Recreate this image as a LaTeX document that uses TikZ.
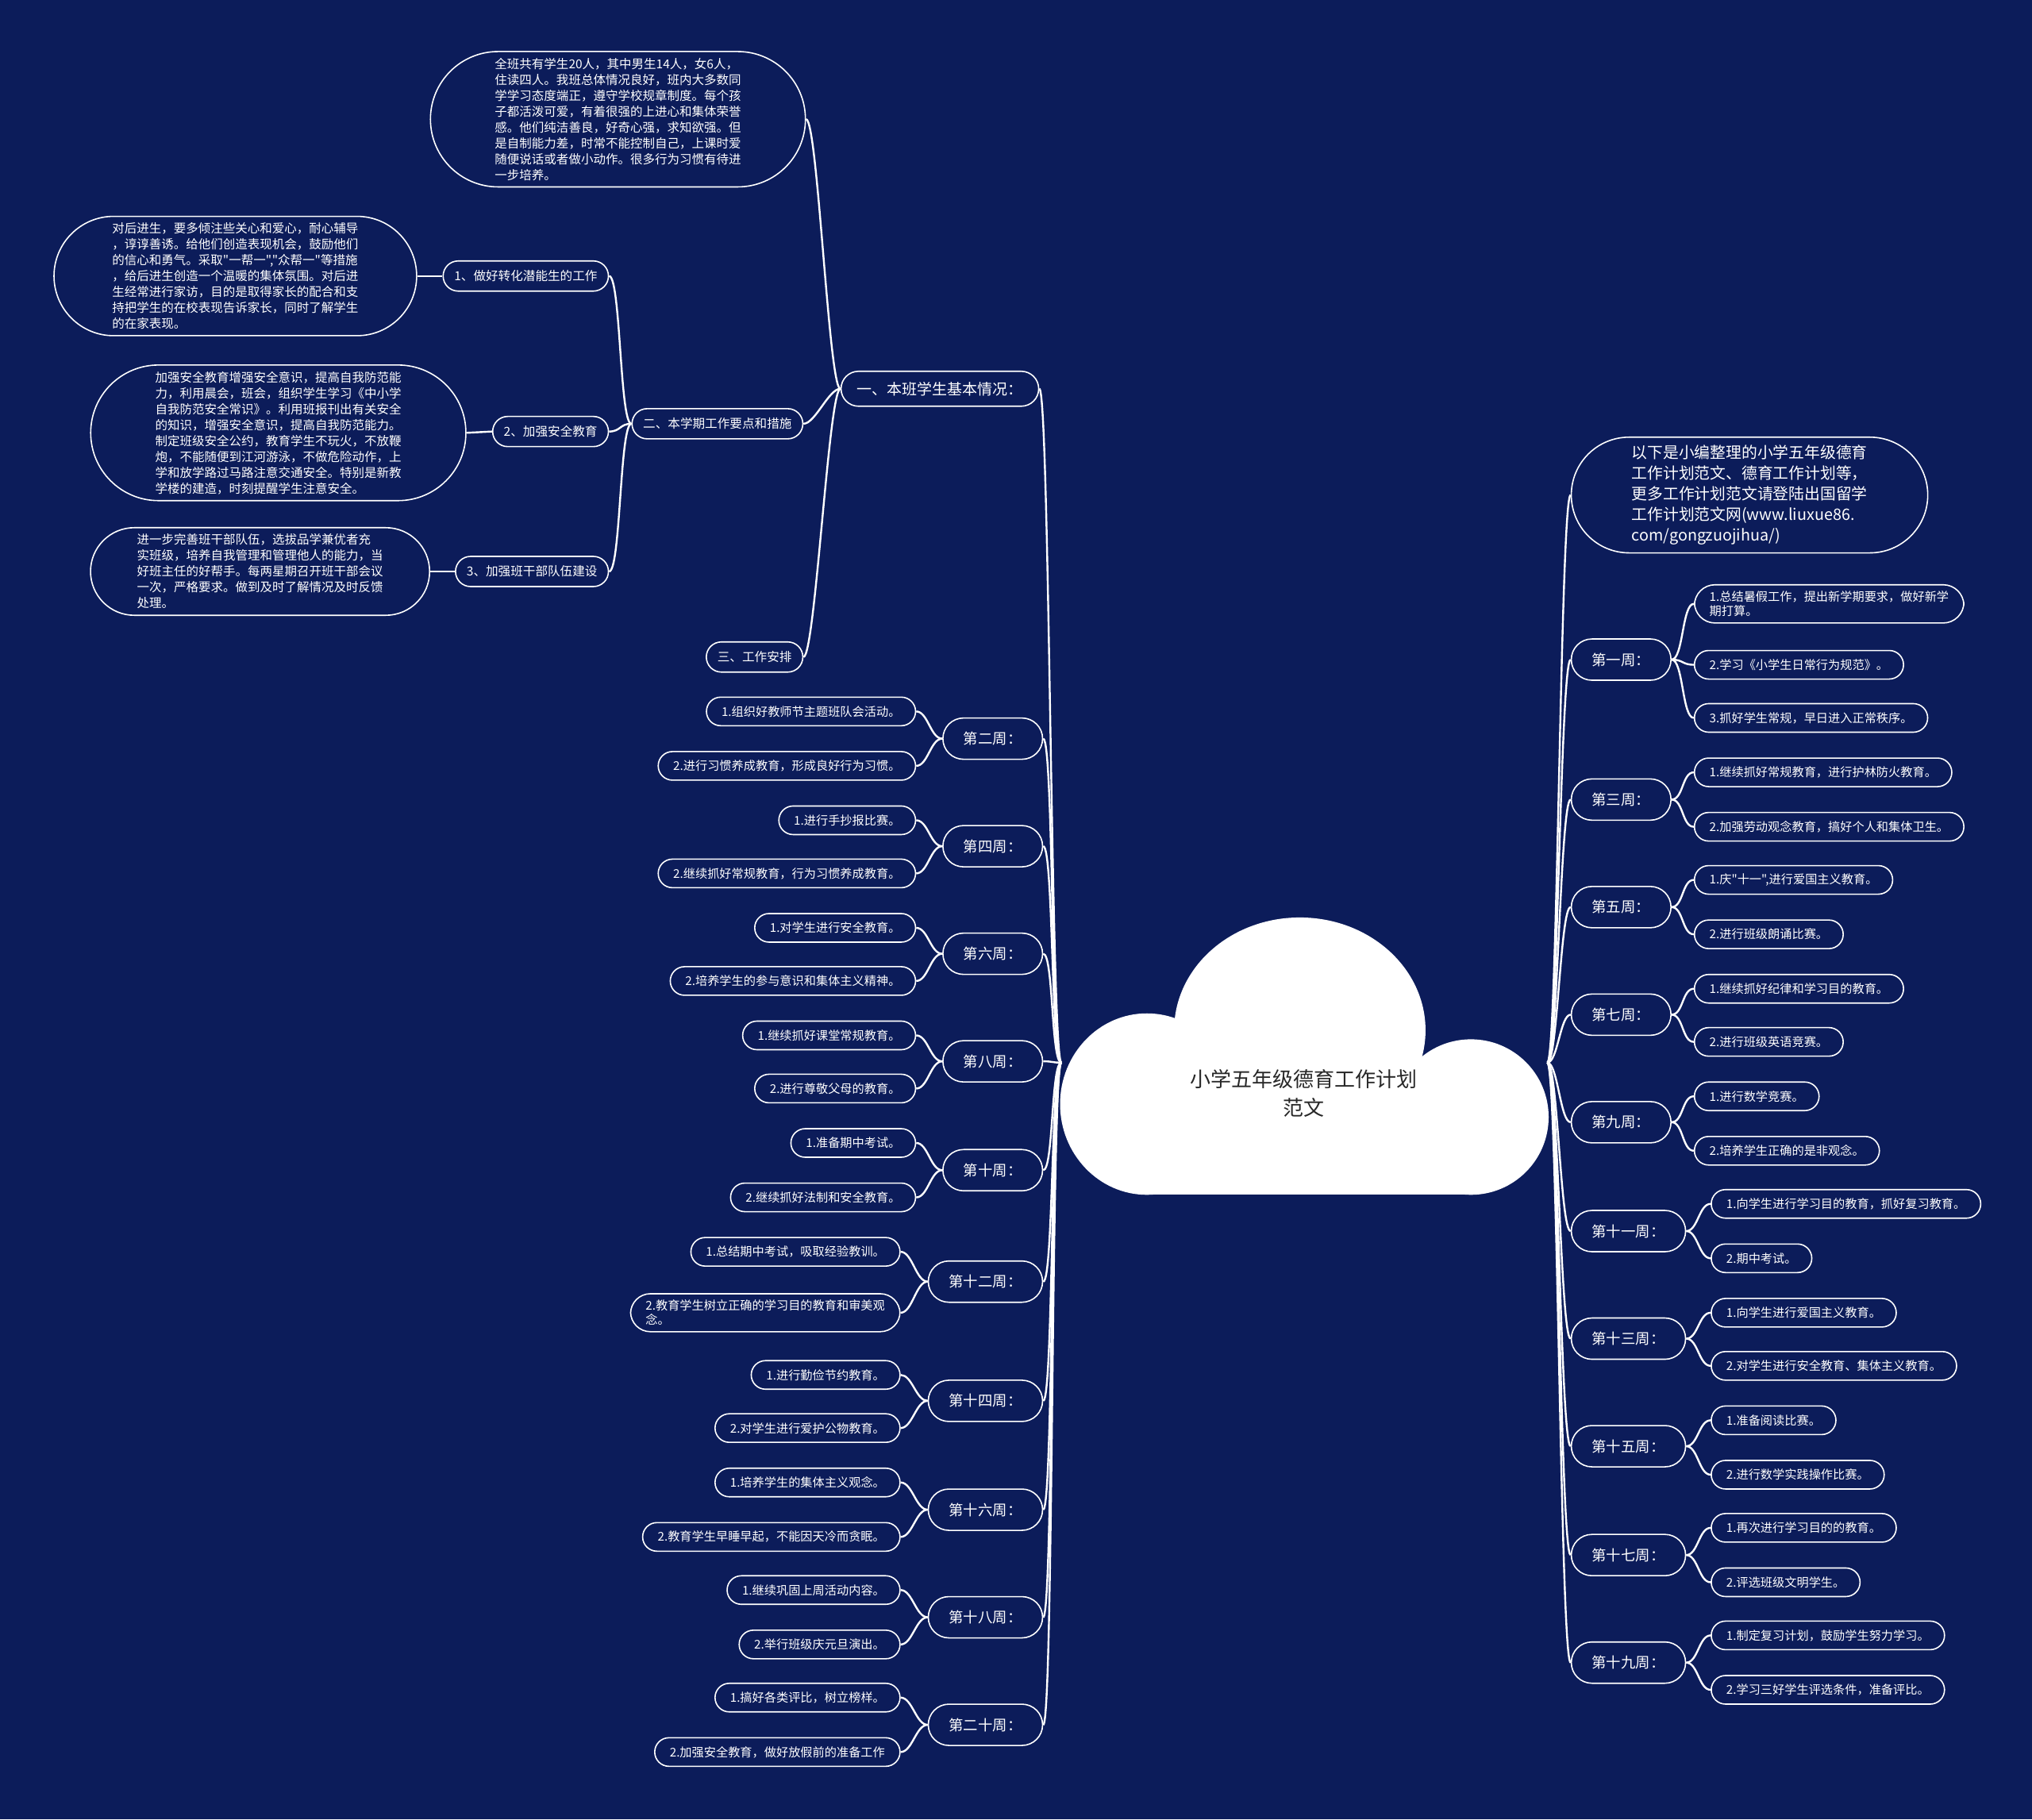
\documentclass[tikz,border=0pt]{standalone}
\usepackage{fontspec}
\setmainfont{Noto Sans CJK SC}[Ligatures=TeXOff]
\usetikzlibrary{shapes.misc, positioning}
\definecolor{navy}{RGB}{12,28,90}
\definecolor{ink}{RGB}{40,40,40}
\tikzstyle{box}=[draw=white, line width=0.8pt, fill=navy, text=white, align=left]
\tikzstyle{leaf}=[box, rectangle, rounded corners=9pt, minimum height=18pt, inner ysep=3pt, inner xsep=9.5pt, font=\fontsize{7.6}{9}\selectfont]
\tikzstyle{week}=[box, rectangle, rounded corners=13pt, minimum height=26pt, inner xsep=13pt, font=\fontsize{9.2}{11}\selectfont]
\tikzstyle{topic}=[box, rectangle, rounded corners=11pt, minimum height=22pt, inner xsep=10pt, font=\fontsize{9.5}{11}\selectfont]
\tikzstyle{sub}=[box, rectangle, rounded corners=9.5pt, minimum height=19pt, inner xsep=7pt, font=\fontsize{7.8}{9}\selectfont]
\tikzstyle{para}=[box, rounded rectangle, inner xsep=16pt, inner ysep=4pt, font=\fontsize{7.75}{10}\selectfont]
\tikzstyle{link}=[white, line width=1.2pt]

\begin{document}
\begin{tikzpicture}[x=0.8163pt, y=-0.8163pt]
    \fill[navy] (0,0) rectangle (1568,1404);
    \useasboundingbox (0,0) rectangle (1568,1404);
    % cloud
    \fill[white] (1003,795) ellipse (97 and 87);
    \fill[white] (885,852) ellipse (67 and 70);
    \fill[white] (1135,862) ellipse (60 and 60);
    \fill[white] (885,850) rectangle (1135,922);
    \node[align=center, text=ink, font=\fontsize{13}{18}\selectfont] (title) at (1006,844) {小学五年级德育工作计划\\范文};
    \coordinate (cl) at (819,820);
    \coordinate (cr) at (1194,820);
    % left part
    \node[topic, anchor=east] (basic) at (802,300) {一、本班学生基本情况：};
    \node[para, anchor=east] (intro) at (622,92) {全班共有学生20人，其中男生14人，女6人，\\住读四人。我班总体情况良好，班内大多数同\\学学习态度端正，遵守学校规章制度。每个孩\\子都活泼可爱，有着很强的上进心和集体荣誉\\感。他们纯洁善良，好奇心强，求知欲强。但\\是自制能力差，时常不能控制自己，上课时爱\\随便说话或者做小动作。很多行为习惯有待进\\一步培养。};
    \node[sub, anchor=east] (plan) at (620,327) {二、本学期工作要点和措施};
    \node[sub, anchor=east] (arrange) at (620,507) {三、工作安排};
    \node[sub, anchor=east] (s1) at (470,213) {1、做好转化潜能生的工作};
    \node[sub, anchor=east] (s2) at (470,333) {2、加强安全教育};
    \node[sub, anchor=east] (s3) at (470,441) {3、加强班干部队伍建设};
    \node[para, anchor=east] (p1) at (322,213) {对后进生，要多倾注些关心和爱心，耐心辅导\\，谆谆善诱。给他们创造表现机会，鼓励他们\\的信心和勇气。采取"一帮一","众帮一"等措施\\，给后进生创造一个温暖的集体氛围。对后进\\生经常进行家访，目的是取得家长的配合和支\\持把学生的在校表现告诉家长，同时了解学生\\的在家表现。};
    \node[para, anchor=east] (p2) at (360,334) {加强安全教育增强安全意识，提高自我防范能\\力，利用晨会，班会，组织学生学习《中小学\\自我防范安全常识》。利用班报刊出有关安全\\的知识，增强安全意识，提高自我防范能力。\\制定班级安全公约，教育学生不玩火，不放鞭\\炮，不能随便到江河游泳，不做危险动作，上\\学和放学路过马路注意交通安全。特别是新教\\学楼的建造，时刻提醒学生注意安全。};
    \node[para, anchor=east] (p3) at (332,441) {进一步完善班干部队伍，选拔品学兼优者充\\实班级，培养自我管理和管理他人的能力，当\\好班主任的好帮手。每两星期召开班干部会议\\一次，严格要求。做到及时了解情况及时反馈\\处理。};
    \node[week, anchor=east] (w2) at (805,570) {第二周：};
    \node[week, anchor=east] (w4) at (805,653) {第四周：};
    \node[week, anchor=east] (w6) at (805,736) {第六周：};
    \node[week, anchor=east] (w8) at (805,819) {第八周：};
    \node[week, anchor=east] (w10) at (805,903) {第十周：};
    \node[week, anchor=east] (w12) at (805,989) {第十二周：};
    \node[week, anchor=east] (w14) at (805,1081) {第十四周：};
    \node[week, anchor=east] (w16) at (805,1165) {第十六周：};
    \node[week, anchor=east] (w18) at (805,1248) {第十八周：};
    \node[week, anchor=east] (w20) at (805,1331) {第二十周：};
    \node[leaf, anchor=east] (w2a) at (707,549) {1.组织好教师节主题班队会活动。};
    \node[leaf, anchor=east] (w2b) at (707,591) {2.进行习惯养成教育，形成良好行为习惯。};
    \node[leaf, anchor=east] (w4a) at (707,633) {1.进行手抄报比赛。};
    \node[leaf, anchor=east] (w4b) at (707,674) {2.继续抓好常规教育，行为习惯养成教育。};
    \node[leaf, anchor=east] (w6a) at (707,716) {1.对学生进行安全教育。};
    \node[leaf, anchor=east] (w6b) at (707,757) {2.培养学生的参与意识和集体主义精神。};
    \node[leaf, anchor=east] (w8a) at (707,799) {1.继续抓好课堂常规教育。};
    \node[leaf, anchor=east] (w8b) at (707,840) {2.进行尊敬父母的教育。};
    \node[leaf, anchor=east] (w10a) at (707,882) {1.准备期中考试。};
    \node[leaf, anchor=east] (w10b) at (707,924) {2.继续抓好法制和安全教育。};
    \node[leaf, anchor=east] (w12a) at (695,966) {1.总结期中考试，吸取经验教训。};
    \node[leaf, anchor=east, rounded corners=12.5pt, inner ysep=4pt] (w12b) at (695,1013) {2.教育学生树立正确的学习目的教育和审美观\\念。};
    \node[leaf, anchor=east] (w14a) at (695,1061) {1.进行勤俭节约教育。};
    \node[leaf, anchor=east] (w14b) at (695,1102) {2.对学生进行爱护公物教育。};
    \node[leaf, anchor=east] (w16a) at (695,1144) {1.培养学生的集体主义观念。};
    \node[leaf, anchor=east] (w16b) at (695,1186) {2.教育学生早睡早起，不能因天冷而贪眠。};
    \node[leaf, anchor=east] (w18a) at (695,1227) {1.继续巩固上周活动内容。};
    \node[leaf, anchor=east] (w18b) at (695,1269) {2.举行班级庆元旦演出。};
    \node[leaf, anchor=east] (w20a) at (695,1310) {1.搞好各类评比，树立榜样。};
    \node[leaf, anchor=east] (w20b) at (695,1352) {2.加强安全教育，做好放假前的准备工作};
    % right part
    \node[para, anchor=west, font=\fontsize{9.9}{13}\selectfont, inner xsep=20pt, inner ysep=5pt] (note) at (1212,382) {以下是小编整理的小学五年级德育\\工作计划范文、德育工作计划等，\\更多工作计划范文请登陆出国留学\\工作计划范文网(www.liuxue86.\\com/gongzuojihua/)};
    \node[week, anchor=west] (w1) at (1212,509) {第一周：};
    \node[week, anchor=west] (w3) at (1212,617) {第三周：};
    \node[week, anchor=west] (w5) at (1212,700) {第五周：};
    \node[week, anchor=west] (w7) at (1212,783) {第七周：};
    \node[week, anchor=west] (w9) at (1212,866) {第九周：};
    \node[week, anchor=west] (w11) at (1212,950) {第十一周：};
    \node[week, anchor=west] (w13) at (1212,1033) {第十三周：};
    \node[week, anchor=west] (w15) at (1212,1116) {第十五周：};
    \node[week, anchor=west] (w17) at (1212,1200) {第十七周：};
    \node[week, anchor=west] (w19) at (1212,1283) {第十九周：};
    \node[leaf, anchor=west, rounded corners=13pt, inner ysep=4pt] (w1a) at (1307,466) {1.总结暑假工作，提出新学期要求，做好新学\\期打算。};
    \node[leaf, anchor=west] (w1b) at (1307,513) {2.学习《小学生日常行为规范》。};
    \node[leaf, anchor=west] (w1c) at (1307,554) {3.抓好学生常规，早日进入正常秩序。};
    \node[leaf, anchor=west] (w3a) at (1307,596) {1.继续抓好常规教育，进行护林防火教育。};
    \node[leaf, anchor=west] (w3b) at (1307,638) {2.加强劳动观念教育，搞好个人和集体卫生。};
    \node[leaf, anchor=west] (w5a) at (1307,679) {1.庆"十一",进行爱国主义教育。};
    \node[leaf, anchor=west] (w5b) at (1307,721) {2.进行班级朗诵比赛。};
    \node[leaf, anchor=west] (w7a) at (1307,763) {1.继续抓好纪律和学习目的教育。};
    \node[leaf, anchor=west] (w7b) at (1307,804) {2.进行班级英语竞赛。};
    \node[leaf, anchor=west] (w9a) at (1307,846) {1.进行数学竞赛。};
    \node[leaf, anchor=west] (w9b) at (1307,888) {2.培养学生正确的是非观念。};
    \node[leaf, anchor=west] (w11a) at (1320,929) {1.向学生进行学习目的教育，抓好复习教育。};
    \node[leaf, anchor=west] (w11b) at (1320,971) {2.期中考试。};
    \node[leaf, anchor=west] (w13a) at (1320,1013) {1.向学生进行爱国主义教育。};
    \node[leaf, anchor=west] (w13b) at (1320,1054) {2.对学生进行安全教育、集体主义教育。};
    \node[leaf, anchor=west] (w15a) at (1320,1096) {1.准备阅读比赛。};
    \node[leaf, anchor=west] (w15b) at (1320,1138) {2.进行数学实践操作比赛。};
    \node[leaf, anchor=west] (w17a) at (1320,1179) {1.再次进行学习目的的教育。};
    \node[leaf, anchor=west] (w17b) at (1320,1221) {2.评选班级文明学生。};
    \node[leaf, anchor=west] (w19a) at (1320,1262) {1.制定复习计划，鼓励学生努力学习。};
    \node[leaf, anchor=west] (w19b) at (1320,1304) {2.学习三好学生评选条件，准备评比。};
    % connectors left
    \draw[link] (cl) .. controls +(-8,0) and +(8,0) .. (basic.east);
    \draw[link] (cl) .. controls +(-8,0) and +(8,0) .. (w2.east);
    \draw[link] (cl) .. controls +(-8,0) and +(8,0) .. (w4.east);
    \draw[link] (cl) .. controls +(-8,0) and +(8,0) .. (w6.east);
    \draw[link] (cl) .. controls +(-8,0) and +(8,0) .. (w8.east);
    \draw[link] (cl) .. controls +(-8,0) and +(8,0) .. (w10.east);
    \draw[link] (cl) .. controls +(-8,0) and +(8,0) .. (w12.east);
    \draw[link] (cl) .. controls +(-8,0) and +(8,0) .. (w14.east);
    \draw[link] (cl) .. controls +(-8,0) and +(8,0) .. (w16.east);
    \draw[link] (cl) .. controls +(-8,0) and +(8,0) .. (w18.east);
    \draw[link] (cl) .. controls +(-8,0) and +(8,0) .. (w20.east);
    \draw[link] (basic.west) .. controls +(-9,0) and +(9,0) .. (intro.east);
    \draw[link] (basic.west) .. controls +(-9,0) and +(9,0) .. (plan.east);
    \draw[link] (basic.west) .. controls +(-9,0) and +(9,0) .. (arrange.east);
    \draw[link] (plan.west) .. controls +(-9,0) and +(9,0) .. (s1.east);
    \draw[link] (plan.west) .. controls +(-9,0) and +(9,0) .. (s2.east);
    \draw[link] (plan.west) .. controls +(-9,0) and +(9,0) .. (s3.east);
    \draw[link] (s1.west) -- (p1.east);
    \draw[link] (s2.west) -- (p2.east);
    \draw[link] (s3.west) -- (p3.east);
    \draw[link] (w2.west) .. controls +(-9,0) and +(9,0) .. (w2a.east);
    \draw[link] (w2.west) .. controls +(-9,0) and +(9,0) .. (w2b.east);
    \draw[link] (w4.west) .. controls +(-9,0) and +(9,0) .. (w4a.east);
    \draw[link] (w4.west) .. controls +(-9,0) and +(9,0) .. (w4b.east);
    \draw[link] (w6.west) .. controls +(-9,0) and +(9,0) .. (w6a.east);
    \draw[link] (w6.west) .. controls +(-9,0) and +(9,0) .. (w6b.east);
    \draw[link] (w8.west) .. controls +(-9,0) and +(9,0) .. (w8a.east);
    \draw[link] (w8.west) .. controls +(-9,0) and +(9,0) .. (w8b.east);
    \draw[link] (w10.west) .. controls +(-9,0) and +(9,0) .. (w10a.east);
    \draw[link] (w10.west) .. controls +(-9,0) and +(9,0) .. (w10b.east);
    \draw[link] (w12.west) .. controls +(-9,0) and +(9,0) .. (w12a.east);
    \draw[link] (w12.west) .. controls +(-9,0) and +(9,0) .. (w12b.east);
    \draw[link] (w14.west) .. controls +(-9,0) and +(9,0) .. (w14a.east);
    \draw[link] (w14.west) .. controls +(-9,0) and +(9,0) .. (w14b.east);
    \draw[link] (w16.west) .. controls +(-9,0) and +(9,0) .. (w16a.east);
    \draw[link] (w16.west) .. controls +(-9,0) and +(9,0) .. (w16b.east);
    \draw[link] (w18.west) .. controls +(-9,0) and +(9,0) .. (w18a.east);
    \draw[link] (w18.west) .. controls +(-9,0) and +(9,0) .. (w18b.east);
    \draw[link] (w20.west) .. controls +(-9,0) and +(9,0) .. (w20a.east);
    \draw[link] (w20.west) .. controls +(-9,0) and +(9,0) .. (w20b.east);
    % connectors right
    \draw[link] (cr) .. controls +(8,0) and +(-8,0) .. (note.west);
    \draw[link] (cr) .. controls +(8,0) and +(-8,0) .. (w1.west);
    \draw[link] (cr) .. controls +(8,0) and +(-8,0) .. (w3.west);
    \draw[link] (cr) .. controls +(8,0) and +(-8,0) .. (w5.west);
    \draw[link] (cr) .. controls +(8,0) and +(-8,0) .. (w7.west);
    \draw[link] (cr) .. controls +(8,0) and +(-8,0) .. (w9.west);
    \draw[link] (cr) .. controls +(8,0) and +(-8,0) .. (w11.west);
    \draw[link] (cr) .. controls +(8,0) and +(-8,0) .. (w13.west);
    \draw[link] (cr) .. controls +(8,0) and +(-8,0) .. (w15.west);
    \draw[link] (cr) .. controls +(8,0) and +(-8,0) .. (w17.west);
    \draw[link] (cr) .. controls +(8,0) and +(-8,0) .. (w19.west);
    \draw[link] (w1.east) .. controls +(9,0) and +(-9,0) .. (w1a.west);
    \draw[link] (w1.east) .. controls +(9,0) and +(-9,0) .. (w1b.west);
    \draw[link] (w1.east) .. controls +(9,0) and +(-9,0) .. (w1c.west);
    \draw[link] (w3.east) .. controls +(9,0) and +(-9,0) .. (w3a.west);
    \draw[link] (w3.east) .. controls +(9,0) and +(-9,0) .. (w3b.west);
    \draw[link] (w5.east) .. controls +(9,0) and +(-9,0) .. (w5a.west);
    \draw[link] (w5.east) .. controls +(9,0) and +(-9,0) .. (w5b.west);
    \draw[link] (w7.east) .. controls +(9,0) and +(-9,0) .. (w7a.west);
    \draw[link] (w7.east) .. controls +(9,0) and +(-9,0) .. (w7b.west);
    \draw[link] (w9.east) .. controls +(9,0) and +(-9,0) .. (w9a.west);
    \draw[link] (w9.east) .. controls +(9,0) and +(-9,0) .. (w9b.west);
    \draw[link] (w11.east) .. controls +(9,0) and +(-9,0) .. (w11a.west);
    \draw[link] (w11.east) .. controls +(9,0) and +(-9,0) .. (w11b.west);
    \draw[link] (w13.east) .. controls +(9,0) and +(-9,0) .. (w13a.west);
    \draw[link] (w13.east) .. controls +(9,0) and +(-9,0) .. (w13b.west);
    \draw[link] (w15.east) .. controls +(9,0) and +(-9,0) .. (w15a.west);
    \draw[link] (w15.east) .. controls +(9,0) and +(-9,0) .. (w15b.west);
    \draw[link] (w17.east) .. controls +(9,0) and +(-9,0) .. (w17a.west);
    \draw[link] (w17.east) .. controls +(9,0) and +(-9,0) .. (w17b.west);
    \draw[link] (w19.east) .. controls +(9,0) and +(-9,0) .. (w19a.west);
    \draw[link] (w19.east) .. controls +(9,0) and +(-9,0) .. (w19b.west);
\end{tikzpicture}
\end{document}
